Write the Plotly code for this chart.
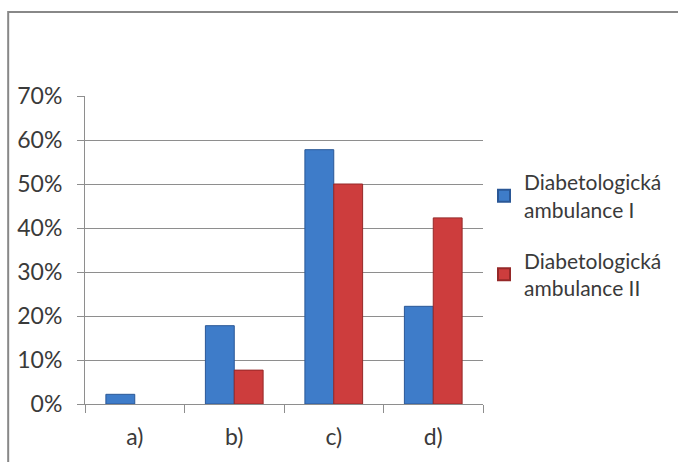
import plotly.graph_objects as go

categories = ["a)", "b)", "c)", "d)"]
amb1 = [0.022, 0.178, 0.578, 0.222]
amb2 = [0.0, 0.077, 0.50, 0.423]
series_names = ["Diabetologická<br>ambulance I", "Diabetologická<br>ambulance II"]
y_ticks = [0, 0.1, 0.2, 0.3, 0.4, 0.5, 0.6, 0.7]
y_tick_labels = ["0%", "10%", "20%", "30%", "40%", "50%", "60%", "70%"]

FONT = "Lato"
GRID = "#8e8e8e"


def edge_widths(values):
    # no outline on empty bars
    return [1 if v > 0 else 0 for v in values]


fig = go.Figure()
fig.add_trace(go.Bar(
    x=categories, y=amb1, name=series_names[0], legendgroup="g1",
    marker=dict(color="#3e7cc9", line=dict(color="#2a5796", width=edge_widths(amb1))),
))
fig.add_trace(go.Bar(
    x=categories, y=amb2, name=series_names[1], legendgroup="g2",
    marker=dict(color="#cd3d3d", line=dict(color="#952828", width=edge_widths(amb2))),
))

# outer frame of the chart area
fig.add_shape(type="rect", xref="paper", yref="paper",
              x0=-0.193, x1=1.6, y0=-0.6, y1=1.273,
              line=dict(color="#888888", width=2), fillcolor="rgba(0,0,0,0)")

fig.update_layout(
    width=678, height=462,
    margin=dict(l=85, r=194, t=96, b=58),
    paper_bgcolor="white", plot_bgcolor="white",
    barmode="group", bargap=0.42, bargroupgap=0,
    font=dict(family=FONT, size=23, color="#3a3a3a"),
    showlegend=True,
    legend=dict(
        x=1.0, y=0.786, xanchor="left", yanchor="top",
        font=dict(family=FONT, size=21, color="#3a3a3a"),
        itemsizing="constant", tracegroupgap=21,
        bgcolor="rgba(0,0,0,0)",
    ),
    xaxis=dict(
        showline=True, linecolor=GRID, linewidth=1,
        ticks="outside", tickson="boundaries", ticklen=8, tickcolor=GRID,
        showgrid=False, ticklabelstandoff=12,
    ),
    yaxis=dict(
        range=[0, 0.7], tickvals=y_ticks, ticktext=y_tick_labels,
        showline=True, linecolor=GRID, linewidth=1,
        ticks="outside", ticklen=7, tickcolor=GRID,
        showgrid=True, gridcolor=GRID, gridwidth=1,
        zeroline=False, ticklabelstandoff=10,
    ),
)

fig.write_html("out.html")
